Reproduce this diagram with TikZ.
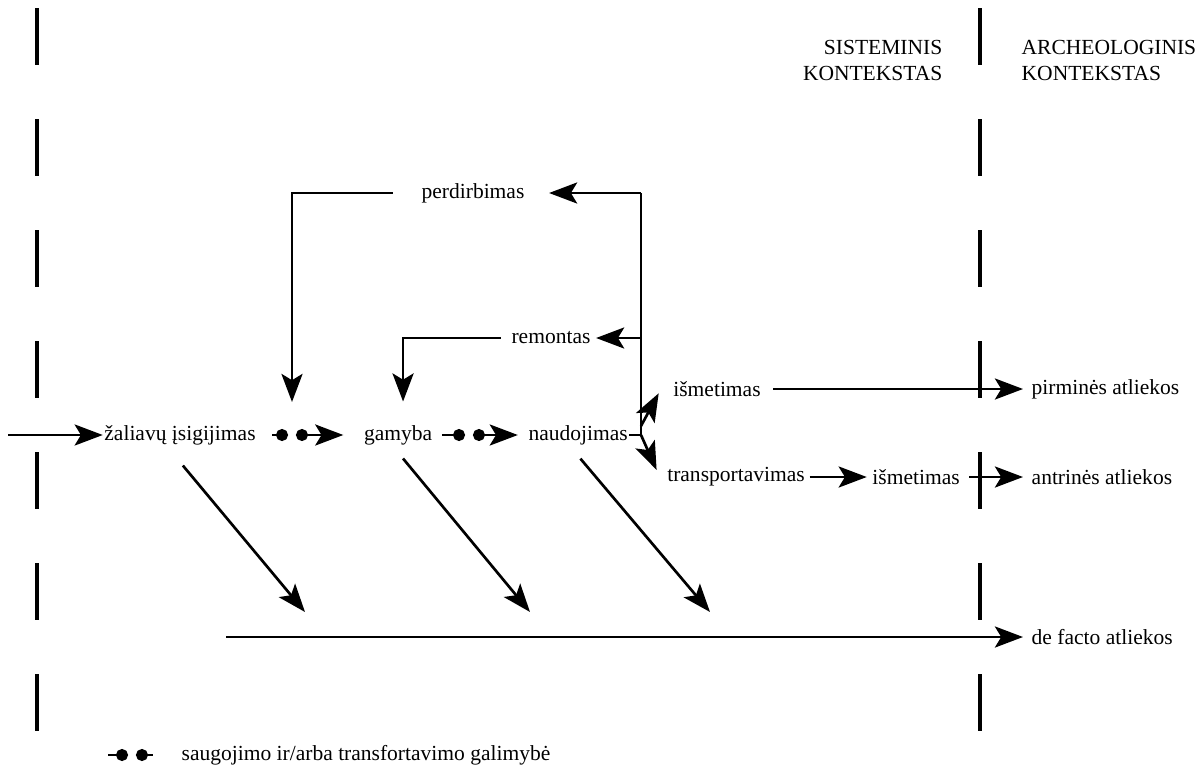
\documentclass[tikz,border=0pt]{standalone}
\usepackage{fontspec}
\setmainfont{Liberation Serif}
\usetikzlibrary{arrows.meta,calc}

\begin{document}
\begin{tikzpicture}[x=0.025cm, y=-0.025cm, node distance=2cm,
  lbl/.style={inner sep=1pt, font=\fontsize{15.3}{18.5}\selectfont},
  link/.style={line width=1.9pt},
  flow/.style={link, -{Stealth[length=20pt, width=15pt, inset=4.5pt]}},
  store/.style={link, -{Circle[length=8.5pt]}},
  fetch/.style={link, {Circle[length=8.5pt]}-{Stealth[length=20pt, width=15pt, inset=4.5pt]}},
  border/.style={line width=2.2pt, dash pattern=on 1.42cm off 1.355cm}]
  \useasboundingbox (0,0) rectangle (1197,770);

  \draw[border] (37,8) -- (37,733);
  \draw[border] (980,8) -- (980,733);

  \node[lbl, anchor=east, align=right] (sis) at (944,60) {SISTEMINIS\\KONTEKSTAS};
  \node[lbl, anchor=west, align=left] (arc) at (1020,60) {ARCHEOLOGINIS\\KONTEKSTAS};

  \node[lbl] (zal) at (180,435) {žaliavų įsigijimas};
  \node[lbl, right of=zal, xshift=3.45cm] (gam) {gamyba};
  \node[lbl, right of=gam, xshift=2.5cm] (nau) {naudojimas};
  \node[lbl] (per) at (473,193) {perdirbimas};
  \node[lbl] (rem) at (551,338) {remontas};
  \node[lbl] (ism1) at (717,389) {išmetimas};
  \node[lbl] (tra) at (736,477) {transportavimas};
  \node[lbl, right of=tra, xshift=2.5cm] (ism2) {išmetimas};
  \node[lbl, anchor=west] (pir) at (1030,389) {pirminės atliekos};
  \node[lbl, anchor=west] (ant) at (1030,477) {antrinės atliekos};
  \node[lbl, anchor=west] (def) at (1030,637) {de facto atliekos};
  \node[lbl, anchor=west] (leg) at (180,755) {saugojimo ir/arba transfortavimo galimybė};

  \coordinate (in) at (8,435);
  \coordinate (s1) at (288,435);
  \coordinate (g1) at (292,435);
  \coordinate (s2) at (296,435);
  \coordinate (s3) at (465,435);
  \coordinate (s4) at (473,435);
  \coordinate (jn) at (641,435);
  \coordinate (dfs) at (226,637);
  \coordinate (d1) at (305,612);
  \coordinate (d2) at (530,612);
  \coordinate (d3) at (710,612);
  \coordinate (l1) at (108,755);
  \coordinate (l2) at (128,755);
  \coordinate (l3) at (136,755);
  \coordinate (l4) at (153,755);

  \draw[flow] (in) -- (zal.west);
  \draw[store, shorten <=0.375cm] (zal.east) -- (s1);
  \draw[fetch, shorten >=0.475cm] (s2) -- (gam.west);
  \draw[store, shorten <=0.2cm] (gam.east) -- (s3);
  \draw[fetch, shorten >=0.225cm] (s4) -- (nau.west);

  \draw[link] (nau.east) -- (jn) -- (jn |- per);
  \draw[flow, shorten >=0.575cm] (jn |- per) -- (per.east);
  \draw[flow, shorten <=0.675cm, shorten >=0.825cm] (per.west) -| (g1);
  \draw[flow, shorten >=0.1cm] (jn |- rem) -- (rem.east);
  \draw[flow, shorten <=0.225cm, shorten >=0.55cm] (rem.west) -| ([xshift=0.125cm]gam.north);

  \draw[flow] ([yshift=0.225cm]jn) -- ([xshift=-0.325cm, yshift=0.125cm]ism1.south west);
  \draw[flow] (jn) -- ([xshift=-0.225cm, yshift=-0.1cm]tra.north west);
  \draw[flow, shorten <=0.275cm, shorten >=0.175cm] (ism1.east) -- (pir.west);
  \draw[flow, shorten <=0.08cm, shorten >=0.1cm] (tra.east) -- (ism2.west);
  \draw[flow, shorten <=0.2cm, shorten >=0.175cm] (ism2.east) -- (ant.west);

  \draw[flow, shorten <=0.62cm] ([xshift=-0.325cm]zal.south) -- (d1);
  \draw[flow, shorten <=0.39cm] ([xshift=-0.125cm]gam.south) -- (d2);
  \draw[flow, shorten <=0.4cm] ([xshift=-0.2cm]nau.south) -- (d3);
  \draw[flow, shorten >=0.175cm] (dfs) -- (def.west);

  \draw[store] (l1) -- (l2);
  \draw[link, {Circle[length=8.5pt]}-] (l3) -- (l4);
\end{tikzpicture}
\end{document}
